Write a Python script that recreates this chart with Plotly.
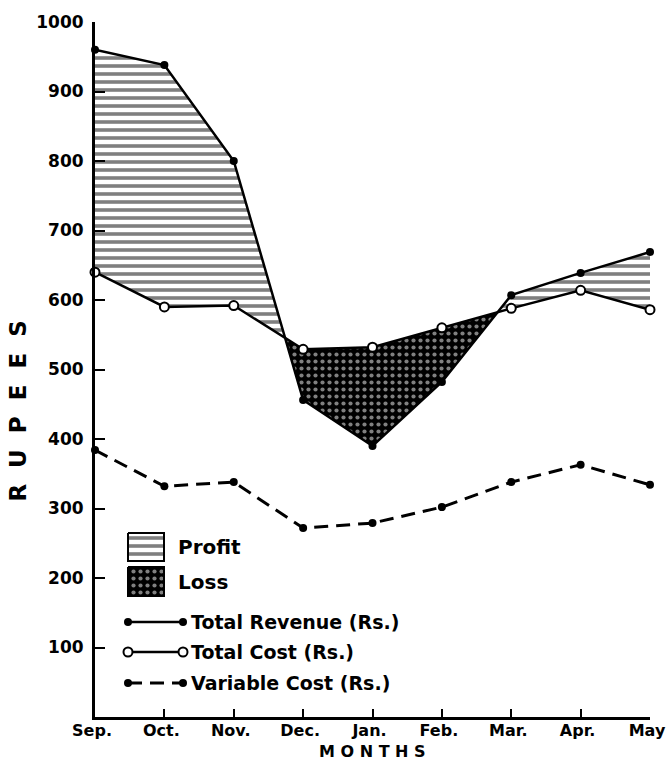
import plotly.graph_objects as go

months = ["Sep.", "Oct.", "Nov.", "Dec.", "Jan.", "Feb.", "Mar.", "Apr.", "May"]
total_revenue = [960, 938, 800, 456, 390, 482, 607, 639, 669]
total_cost = [640, 590, 592, 529, 532, 560, 588, 614, 586]
variable_cost = [384, 332, 338, 272, 279, 302, 338, 363, 334]
y_ticks = [100, 200, 300, 400, 500, 600, 700, 800, 900, 1000]

legend_area_labels = ["Profit", "Loss"]
legend_line_labels = ["Total Revenue (Rs.)", "Total Cost (Rs.)", "Variable Cost (Rs.)"]

x = list(range(len(months)))
FONT = "DejaVu Sans"
NB = "\u00a0"

PROFIT_PAT = dict(shape="-", fgcolor="black", bgcolor="white", size=8, solidity=0.45)
LOSS_PAT = dict(shape=".", fgcolor="white", bgcolor="black", size=7, solidity=0.28)

# split the area between revenue and cost into profit / loss regions
regions = []
cur = [(x[0], total_revenue[0], total_cost[0])]
for i in range(len(x) - 1):
    d0 = total_revenue[i] - total_cost[i]
    d1 = total_revenue[i + 1] - total_cost[i + 1]
    if d0 * d1 < 0:
        t = d0 / (d0 - d1)
        xc = x[i] + t
        yc = total_revenue[i] + t * (total_revenue[i + 1] - total_revenue[i])
        cur.append((xc, yc, yc))
        regions.append((d0 > 0, cur))
        cur = [(xc, yc, yc)]
    cur.append((x[i + 1], total_revenue[i + 1], total_cost[i + 1]))
regions.append((total_revenue[-1] - total_cost[-1] > 0, cur))

fig = go.Figure()

for is_profit, pts in regions:
    xs = [p[0] for p in pts] + [p[0] for p in reversed(pts)]
    ys = [p[1] for p in pts] + [p[2] for p in reversed(pts)]
    fig.add_trace(go.Scatter(
        x=xs, y=ys, mode="lines", fill="toself", fillcolor="white",
        fillpattern=PROFIT_PAT if is_profit else LOSS_PAT,
        line=dict(width=0, color="black"), hoverinfo="skip", showlegend=False,
    ))

REV_STYLE = dict(line=dict(color="black", width=2.5),
                 marker=dict(symbol="circle", size=8, color="black"))
COST_STYLE = dict(line=dict(color="black", width=2.5),
                  marker=dict(symbol="circle", size=9, color="white",
                              line=dict(color="black", width=2)))
VAR_STYLE = dict(line=dict(color="black", width=3, dash="14px,8px"),
                 marker=dict(symbol="circle", size=8, color="black"))

fig.add_trace(go.Scatter(x=x, y=total_revenue, mode="lines+markers",
                         name=legend_line_labels[0], cliponaxis=False, **REV_STYLE))
fig.add_trace(go.Scatter(x=x, y=total_cost, mode="lines+markers",
                         name=legend_line_labels[1], cliponaxis=False, **COST_STYLE))
fig.add_trace(go.Scatter(x=x, y=variable_cost, mode="lines+markers",
                         name=legend_line_labels[2], cliponaxis=False, **VAR_STYLE))

# ---- hand-drawn key (overlay axes measured in pixels from plot top-left) ----
box_x0, box_x1 = 33, 69
box_rows = [(511, 539), (545, 574)]
line_x0, line_x1 = 33, 88
line_rows = [600, 630, 661]
for (y0, y1), pat, lab in zip(box_rows, [PROFIT_PAT, LOSS_PAT], legend_area_labels):
    fig.add_trace(go.Scatter(
        x=[box_x0, box_x1, box_x1, box_x0, box_x0], y=[y0, y0, y1, y1, y0],
        xaxis="x2", yaxis="y2", mode="lines", fill="toself", fillcolor="white",
        fillpattern=pat, line=dict(color="black", width=2),
        hoverinfo="skip", showlegend=False,
    ))
    fig.add_annotation(x=box_x1 + 12, y=(y0 + y1) / 2, xref="x2", yref="y2",
                       text=lab, showarrow=False, xanchor="left", yanchor="middle",
                       font=dict(size=20, family=FONT, weight="bold"))
for yy, style, lab in zip(line_rows, [REV_STYLE, COST_STYLE, VAR_STYLE], legend_line_labels):
    fig.add_trace(go.Scatter(
        x=[line_x0, line_x1], y=[yy, yy], xaxis="x2", yaxis="y2",
        mode="lines+markers", hoverinfo="skip", showlegend=False, **style,
    ))
    fig.add_annotation(x=line_x1 + 6, y=yy, xref="x2", yref="y2",
                       text=lab, showarrow=False, xanchor="left", yanchor="middle",
                       font=dict(size=19, family=FONT, weight="bold"))

fig.add_annotation(text="M O N T H S", xref="paper", yref="paper", x=0.5, y=-0.0655,
                   showarrow=False, xanchor="center", yanchor="bottom",
                   font=dict(size=16, family=FONT, weight="bold"))
fig.add_annotation(text=(NB * 2).join("RUPEES"), xref="paper", yref="paper",
                   x=-0.138, y=0.44, showarrow=False, textangle=-90,
                   xanchor="center", yanchor="middle",
                   font=dict(size=23, family=FONT, weight="bold"))

fig.update_layout(
    width=666, height=763,
    margin=dict(l=95, r=16, t=22, b=46),
    paper_bgcolor="white", plot_bgcolor="white",
    font=dict(family=FONT, color="black", size=16, weight="bold"),
    showlegend=False,
    xaxis=dict(
        range=[0, 8], tickvals=x, ticktext=months, automargin=False,
        showline=True, linecolor="black", linewidth=3,
        ticks="inside", ticklen=8, tickwidth=2, tickcolor="black",
        showgrid=False, zeroline=False, ticklabeloverflow="allow",
        ticklabelshift=-3, ticklabelstandoff=-3,
        tickfont=dict(size=16, family=FONT, weight="bold"),
    ),
    yaxis=dict(
        range=[0, 1000], tickvals=y_ticks, automargin=False,
        showline=True, linecolor="black", linewidth=3,
        ticks="inside", ticklen=10, tickwidth=2, tickcolor="black",
        showgrid=False, zeroline=False, ticklabelstandoff=5,
        tickfont=dict(size=17, family=FONT, weight="bold"),
    ),
    xaxis2=dict(overlaying="x", anchor="y2", range=[0, 555], visible=False,
                fixedrange=True, automargin=False),
    yaxis2=dict(overlaying="y", anchor="x2", range=[695, 0], visible=False,
                fixedrange=True, automargin=False),
)

fig.write_html("out.html", config={"displayModeBar": False},
               post_script="document.body.style.margin='0px';")
